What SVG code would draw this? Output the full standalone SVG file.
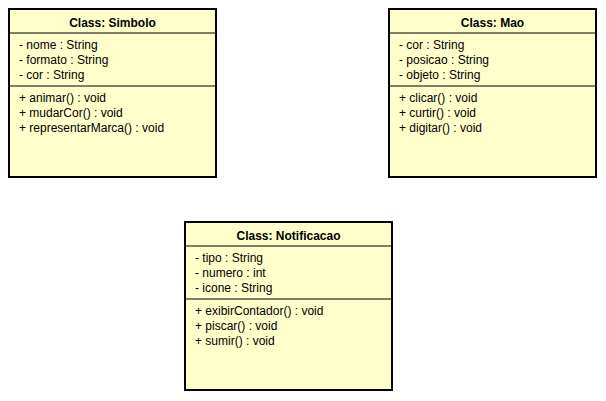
<svg xmlns="http://www.w3.org/2000/svg" width="606" height="401" viewBox="0 0 606 401">
<style>
.box{fill:#FFFFCC;stroke:#000;stroke-width:2}
.ln{stroke:#000;stroke-width:1}
.t{font-family:"Liberation Sans",Arial,sans-serif;font-size:12px;fill:#000}
.h{font-weight:bold;text-anchor:middle}
</style>
<rect width="606" height="401" fill="#fff"/>
<g id="Simbolo" transform="translate(9,9)">
<rect class="box" x="0" y="0" width="207" height="168"/>
<line class="ln" x1="0" y1="24" x2="207" y2="24"/>
<line class="ln" x1="0" y1="77" x2="207" y2="77"/>
<text class="t h" x="103.5" y="18">Class: Simbolo</text>
<text class="t" x="10" y="40">- nome : String</text>
<text class="t" x="10" y="55">- formato : String</text>
<text class="t" x="10" y="70">- cor : String</text>
<text class="t" x="10" y="93">+ animar() : void</text>
<text class="t" x="10" y="108">+ mudarCor() : void</text>
<text class="t" x="10" y="123">+ representarMarca() : void</text>
</g>
<g id="Mao" transform="translate(389,9)">
<rect class="box" x="0" y="0" width="207" height="168"/>
<line class="ln" x1="0" y1="24" x2="207" y2="24"/>
<line class="ln" x1="0" y1="77" x2="207" y2="77"/>
<text class="t h" x="103.5" y="18">Class: Mao</text>
<text class="t" x="10" y="40">- cor : String</text>
<text class="t" x="10" y="55">- posicao : String</text>
<text class="t" x="10" y="70">- objeto : String</text>
<text class="t" x="10" y="93">+ clicar() : void</text>
<text class="t" x="10" y="108">+ curtir() : void</text>
<text class="t" x="10" y="123">+ digitar() : void</text>
</g>
<g id="Notificacao" transform="translate(185,222)">
<rect class="box" x="0" y="0" width="207" height="168"/>
<line class="ln" x1="0" y1="24" x2="207" y2="24"/>
<line class="ln" x1="0" y1="77" x2="207" y2="77"/>
<text class="t h" x="103.5" y="18">Class: Notificacao</text>
<text class="t" x="10" y="40">- tipo : String</text>
<text class="t" x="10" y="55">- numero : int</text>
<text class="t" x="10" y="70">- icone : String</text>
<text class="t" x="10" y="93">+ exibirContador() : void</text>
<text class="t" x="10" y="108">+ piscar() : void</text>
<text class="t" x="10" y="123">+ sumir() : void</text>
</g>
<g id="connectors"/>
</svg>
